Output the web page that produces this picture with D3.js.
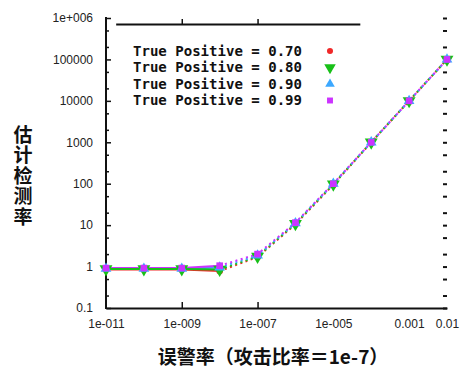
<!DOCTYPE html>
<html>
<head>
<meta charset="utf-8">
<script src="https://cdn.jsdelivr.net/npm/d3@7"></script>
<style>
  html, body { margin: 0; padding: 0; background: #fff; }
  svg { display: block; }
  .axis text { font-family: "Liberation Sans", Arial, sans-serif; font-size: 12px; fill: #222; }
</style>
</head>
<body>
<svg id="chart" width="464" height="369"></svg>
<script>
// False-alarm rates (x) and estimated detection rates for each true-positive level
const falseAlarm = [1e-11, 1e-10, 1e-9, 1e-8, 1e-7, 1e-6, 1e-5, 1e-4, 1e-3, 1e-2];
const tp070 = [0.85, 0.85, 0.85, 0.78, 1.7, 10.5, 95, 1000, 10000, 100000];
const tp080 = [0.87, 0.87, 0.87, 0.85, 1.75, 10.8, 97, 1000, 10000, 100000];
const tp090 = [0.89, 0.89, 0.89, 0.95, 1.85, 11.2, 100, 1000, 10000, 100000];
const tp099 = [0.92, 0.92, 0.92, 1.05, 2.0, 11.5, 100, 1000, 10000, 100000];

const seriesNames = ["True Positive = 0.70", "True Positive = 0.80", "True Positive = 0.90", "True Positive = 0.99"];
const seriesColors = ["#f02828", "#18c018", "#3ca8ff", "#cc33ff"];
const seriesShapes = [d3.symbolCircle, d3.symbolTriangle, d3.symbolTriangle, d3.symbolSquare];

const yTickValues = [0.1, 1, 10, 100, 1000, 10000, 100000, 1000000];
const yTickLabels = ["0.1", "1", "10", "100", "1000", "10000", "100000", "1e+006"];
const xTickValues = [1e-11, 1e-9, 1e-7, 1e-5, 1e-3, 1e-2];
const xTickLabels = ["1e-011", "1e-009", "1e-007", "1e-005", "0.001", "0.01"];

const yTitle = "估计检测率";
const xTitle = "误警率（攻击比率＝1e-7）";

const svg = d3.select("#chart");
const x = d3.scaleLog().domain([1e-11, 1e-2]).range([106, 447]);
const y = d3.scaleLog().domain([0.1, 1e6]).range([308, 18]);

// minor ticks at 2 and 5 within every decade
const minor = [];
for (let e = -1; e < 6; e++) { minor.push(2 * 10 ** e, 5 * 10 ** e); }

// left axis
const gl = svg.append("g").attr("class", "axis").attr("transform", "translate(106,0)")
  .call(d3.axisLeft(y).tickValues(yTickValues).tickFormat((d, i) => yTickLabels[i])
    .tickSize(-5).tickSizeOuter(0).tickPadding(13));
gl.select(".domain").attr("stroke", "#111").attr("stroke-width", 2)
  .attr("d", `M0,${y(1e6) - 1}V${y(0.1) + 1}`);
gl.selectAll(".tick line").attr("stroke", "#111").attr("stroke-width", 1.5);
svg.append("g").attr("transform", "translate(106,0)")
  .call(d3.axisLeft(y).tickValues(minor).tickFormat("").tickSize(-3))
  .call(g => g.select(".domain").remove())
  .call(g => g.selectAll(".tick line").attr("stroke", "#111").attr("stroke-width", 1.5));

// right-hand tick marks (no spine)
svg.append("g").attr("transform", "translate(447,0)")
  .call(d3.axisRight(y).tickValues(yTickValues.concat(minor)).tickFormat("").tickSize(-4))
  .call(g => g.select(".domain").remove())
  .call(g => g.selectAll(".tick line").attr("stroke", "#111").attr("stroke-width", 2));

// bottom axis with labels
const gb = svg.append("g").attr("class", "axis").attr("transform", "translate(0,308)")
  .call(d3.axisBottom(x).tickValues(xTickValues).tickFormat((d, i) => xTickLabels[i])
    .tickSize(0).tickPadding(11));
gb.select(".domain").attr("stroke", "#111").attr("stroke-width", 2);
svg.append("g").attr("transform", "translate(0,308)")
  .call(d3.axisBottom(x).tickValues([1e-9, 1e-7]).tickFormat("").tickSize(-6))
  .call(g => g.select(".domain").remove())
  .call(g => g.selectAll(".tick line").attr("stroke", "#111").attr("stroke-width", 1.5));

// partial top border
const xTop = d3.scaleLog().domain([1.8e-11, 5e-5]).range([x(1.8e-11), x(5e-5)]);
svg.append("g").attr("transform", "translate(0,24)")
  .call(d3.axisTop(xTop).tickValues([1e-9, 1e-7]).tickFormat("").tickSize(5).tickSizeOuter(0))
  .call(g => g.select(".domain").attr("stroke", "#111").attr("stroke-width", 2))
  .call(g => g.selectAll(".tick line").attr("stroke", "#111").attr("stroke-width", 1.5));

// series
const allSeries = [tp070, tp080, tp090, tp099];
const pts = s => falseAlarm.map((fx, i) => [fx, s[i]]);
const line = d3.line().x(d => x(d[0])).y(d => y(d[1]));
const splitAt = 3; // index of 1e-8: solid below, dotted above

// lower solid segments: green drawn last so it sits on top
[0, 2, 3, 1].forEach(k => {
  svg.append("path").attr("d", line(pts(allSeries[k]).slice(0, splitAt + 1)))
    .attr("fill", "none").attr("stroke", seriesColors[k]).attr("stroke-width", 2);
});
// upper dotted segments, purple on top
[0, 1, 2, 3].forEach(k => {
  svg.append("path").attr("d", line(pts(allSeries[k]).slice(splitAt)))
    .attr("fill", "none").attr("stroke", seriesColors[k]).attr("stroke-width", 2)
    .attr("stroke-dasharray", "2,3.5");
});

// point markers
const markerSize = [36, 72, 50, 44];
const markerRot = [0, 180, 0, 0];
[0, 1, 2, 3].forEach(k => {
  svg.append("g").selectAll("path").data(pts(allSeries[k])).join("path")
    .attr("d", d3.symbol().type(seriesShapes[k]).size(markerSize[k]))
    .attr("transform", d => `translate(${x(d[0])},${y(d[1])}) rotate(${markerRot[k]})`)
    .attr("fill", seriesColors[k]);
});

// legend
const legendY = [51, 67.5, 84, 100.5];
const lg = svg.append("g");
seriesNames.forEach((name, k) => {
  lg.append("text").attr("x", 133).attr("y", legendY[k] + 4.5)
    .attr("font-family", "DejaVu Sans Mono, monospace").attr("font-weight", "bold")
    .attr("font-size", 13.5).attr("fill", "#111")
    .attr("textLength", 169).attr("lengthAdjust", "spacingAndGlyphs").text(name);
  lg.append("path")
    .attr("d", d3.symbol().type(seriesShapes[k]).size(markerSize[k] * 0.8))
    .attr("transform", `translate(330,${legendY[k]}) rotate(${markerRot[k]})`)
    .attr("fill", seriesColors[k]);
});

// axis titles
svg.append("text").attr("x", 23).attr("y", 125)
  .attr("writing-mode", "vertical-rl").attr("letter-spacing", 1.5)
  .attr("font-family", "Noto Sans CJK SC").attr("font-weight", "bold")
  .attr("font-size", 19).attr("fill", "#111").text(yTitle);
svg.append("text").attr("x", 273).attr("y", 364)
  .attr("font-family", "Noto Sans CJK SC").attr("font-weight", "bold")
  .attr("font-size", 19).attr("fill", "#111").attr("text-anchor", "middle").text(xTitle);
</script>
</body>
</html>
